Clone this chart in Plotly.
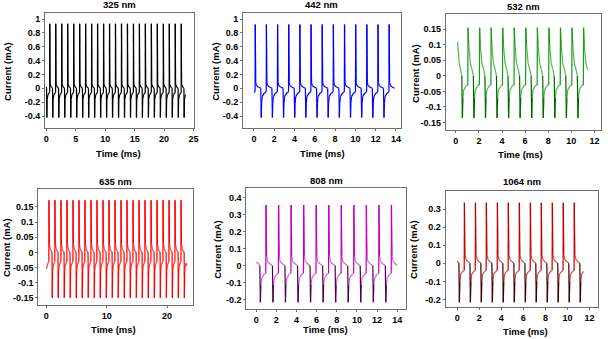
import plotly.graph_objects as go

W, H = 608, 339

# ---------------- data ----------------
titles = ["325 nm", "442 nm", "532 nm", "635 nm", "808 nm", "1064 nm"]

# 325 nm
p1_up_t = [0.60, 1.61, 2.63, 3.64, 4.66, 5.67, 6.68, 7.70, 8.71, 9.73, 10.74, 11.75,
           12.77, 13.78, 14.80, 15.81, 16.82, 17.84, 18.85, 19.87, 20.88, 21.89, 22.91]
p1_dn_t = [0.10, 1.11, 2.13, 3.14, 4.16, 5.17, 6.18, 7.20, 8.21, 9.23, 10.24, 11.25,
           12.27, 13.28, 14.30, 15.31, 16.32, 17.34, 18.35, 19.37, 20.38, 21.39, 22.41, 23.40]
p1_up_dt = [-0.02, 0.0, 0.06, 0.25]
p1_up_v = [-0.06, 0.93, 0.06, 0.02]
p1_dn_dt = [-0.04, 0.0, 0.05, 0.20]
p1_dn_v = [0.0, -0.42, -0.16, -0.09]
p1_start_t, p1_start_v = [0.0], [0.02]
p1_end_t, p1_end_v = [], []

# 442 nm
p2_up_t = [0.13, 1.23, 2.33, 3.43, 4.53, 5.63, 6.73, 7.83, 8.93, 10.03, 11.13, 12.23, 13.33]
p2_dn_t = [0.72, 1.82, 2.92, 4.02, 5.12, 6.22, 7.32, 8.42, 9.52, 10.62, 11.72, 12.82]
p2_up_dt = [-0.02, 0.0, 0.05, 0.12, 0.30]
p2_up_v = [-0.05, 0.92, 0.08, 0.04, 0.02]
p2_dn_dt = [-0.05, 0.0, 0.04, 0.10, 0.30]
p2_dn_v = [0.0, -0.42, -0.22, -0.12, -0.07]
p2_start_t, p2_start_v = [0.0], [-0.06]
p2_end_t, p2_end_v = [13.85], [0.0]

# 532 nm
p3_up_t = [1.06, 2.06, 3.06, 4.06, 5.06, 6.06, 7.06, 8.06, 9.06, 10.06, 11.06]
p3_dn_t = [0.57, 1.57, 2.57, 3.57, 4.57, 5.57, 6.57, 7.57, 8.57, 9.57, 10.57]
p3_up_dt = [-0.02, 0.0, 0.06, 0.20, 0.35]
p3_up_v = [-0.03, 0.155, 0.10, 0.04, 0.02]
p3_dn_dt = [-0.05, 0.0, 0.05, 0.12, 0.35]
p3_dn_v = [0.0, -0.135, -0.07, -0.045, -0.03]
p3_start_t, p3_start_v = [0.15, 0.30], [0.11, 0.04]
p3_end_t, p3_end_v = [], []

# 635 nm
p4_up_t = [0.45, 1.44, 2.44, 3.43, 4.43, 5.42, 6.41, 7.41, 8.40, 9.40, 10.39, 11.38,
           12.38, 13.37, 14.37, 15.36, 16.35, 17.35, 18.34, 19.34, 20.33, 21.32, 22.32]
p4_dn_t = [1.00, 1.99, 2.99, 3.98, 4.98, 5.97, 6.96, 7.96, 8.95, 9.95, 10.94, 11.93,
           12.93, 13.92, 14.92, 15.91, 16.90, 17.90, 18.89, 19.89, 20.88, 21.87, 22.87]
p4_up_dt = [-0.02, 0.0, 0.06, 0.20, 0.35]
p4_up_v = [-0.03, 0.172, 0.03, 0.012, 0.005]
p4_dn_dt = [-0.04, 0.0, 0.05, 0.15, 0.30]
p4_dn_v = [0.0, -0.15, -0.065, -0.045, -0.035]
p4_start_t, p4_start_v = [0.0, 0.30], [-0.055, -0.035]
p4_end_t, p4_end_v = [23.3], [-0.045]

# 808 nm
p5_up_t = [0.98, 2.23, 3.47, 4.72, 5.96, 7.21, 8.45, 9.70, 10.94, 12.19, 13.43]
p5_dn_t = [0.42, 1.67, 2.91, 4.16, 5.40, 6.65, 7.89, 9.14, 10.38, 11.63, 12.87]
p5_up_dt = [-0.02, 0.0, 0.06, 0.15, 0.40]
p5_up_v = [-0.045, 0.355, 0.06, 0.025, 0.01]
p5_dn_dt = [-0.05, 0.0, 0.05, 0.15, 0.40]
p5_dn_v = [0.0, -0.215, -0.11, -0.07, -0.05]
p5_start_t, p5_start_v = [0.0, 0.25], [0.02, 0.012]
p5_end_t, p5_end_v = [14.0], [0.0]

# 1064 nm
p6_up_t = [0.66, 1.66, 2.65, 3.65, 4.64, 5.64, 6.64, 7.63, 8.63, 9.62, 10.62]
p6_dn_t = [0.20, 1.20, 2.19, 3.19, 4.18, 5.18, 6.18, 7.17, 8.17, 9.16, 10.16, 11.16]
p6_up_dt = [-0.02, 0.0, 0.05, 0.15, 0.35]
p6_up_v = [-0.04, 0.335, 0.05, 0.02, 0.008]
p6_dn_dt = [-0.04, 0.0, 0.05, 0.12, 0.30]
p6_dn_v = [0.0, -0.215, -0.10, -0.06, -0.045]
p6_start_t, p6_start_v = [0.0], [0.012]
p6_end_t, p6_end_v = [], []

# tick labels
x_ticks = [[0, 5, 10, 15, 20, 25], [0, 2, 4, 6, 8, 10, 12, 14], [0, 2, 4, 6, 8, 10, 12],
           [0, 10, 20], [0, 2, 4, 6, 8, 10, 12, 14], [0, 2, 4, 6, 8, 10, 12]]
y_ticks_1 = [-0.4, -0.2, 0, 0.2, 0.4, 0.6, 0.8, 1]
y_text_1 = ["-0.4", "-0.2", "0", "0.2", "0.4", "0.6", "0.8", "1"]
y_ticks_2 = [-0.15, -0.1, -0.05, 0, 0.05, 0.1, 0.15]
y_text_2 = ["-0.15", "-0.1", "-0.05", "0", "0.05", "0.1", "0.15"]
y_ticks_5 = [-0.2, -0.1, 0, 0.1, 0.2, 0.3, 0.4]
y_text_5 = ["-0.2", "-0.1", "0", "0.1", "0.2", "0.3", "0.4"]
y_ticks_6 = [-0.2, -0.1, 0, 0.1, 0.2, 0.3]
y_text_6 = ["-0.2", "-0.1", "0", "0.1", "0.2", "0.3"]

# ---------------- layout / style ----------------
# plot boxes in pixels: x0, x1, y0(top), y1(bottom)
boxes = [(44.5, 194.5, 12.5, 128), (244.5, 403.5, 12.5, 128), (449.3, 606, 14, 130),
         (37.7, 194.3, 188.5, 305), (247.7, 409.3, 187.7, 309), (449, 603.3, 191, 306.7)]
x_ranges = [[-0.2, 25], [-1.07, 14.45], [-0.86, 12.57], [-1.31, 24.36], [-0.98, 14.9], [-1.05, 12.8]]
y_ranges = [[-0.573, 1.094], [-0.573, 1.094], [-0.174, 0.199], [-0.174, 0.211], [-0.254, 0.457], [-0.24, 0.40]]
colors = [("#000000", "#000000", "#000000"),
          ("#0000ff", "#0000ff", "#0000ff"),
          ("#1a9a1a", "#006400", "#4cbb4c"),
          ("#ff0000", "#ff0000", "#ff3a3a"),
          ("#c000c0", "#4b0050", "#d860d8"),
          ("#c00000", "#3a0000", "#d04848")]
title_pos = [(119.5, 5), (324, 5), (527.5, 6), (116, 181), (328.5, 180), (526, 181)]
xlab_pos = [(119, 153), (325, 153), (525, 154), (114, 329), (328, 329), (530, 331)]
ylab_pos = [(7, 71), (217, 71), (418, 73), (6, 247), (218, 249), (416, 249)]

panels = [
    (p1_start_t, p1_start_v, p1_up_t, p1_up_dt, p1_up_v, p1_dn_t, p1_dn_dt, p1_dn_v, p1_end_t, p1_end_v),
    (p2_start_t, p2_start_v, p2_up_t, p2_up_dt, p2_up_v, p2_dn_t, p2_dn_dt, p2_dn_v, p2_end_t, p2_end_v),
    (p3_start_t, p3_start_v, p3_up_t, p3_up_dt, p3_up_v, p3_dn_t, p3_dn_dt, p3_dn_v, p3_end_t, p3_end_v),
    (p4_start_t, p4_start_v, p4_up_t, p4_up_dt, p4_up_v, p4_dn_t, p4_dn_dt, p4_dn_v, p4_end_t, p4_end_v),
    (p5_start_t, p5_start_v, p5_up_t, p5_up_dt, p5_up_v, p5_dn_t, p5_dn_dt, p5_dn_v, p5_end_t, p5_end_v),
    (p6_start_t, p6_start_v, p6_up_t, p6_up_dt, p6_up_v, p6_dn_t, p6_dn_dt, p6_dn_v, p6_end_t, p6_end_v),
]
y_tick_sets = [(y_ticks_1, y_text_1), (y_ticks_1, y_text_1), (y_ticks_2, y_text_2),
               (y_ticks_2, y_text_2), (y_ticks_5, y_text_5), (y_ticks_6, y_text_6)]


def build(start_t, start_v, up_t, up_dt, up_v, dn_t, dn_dt, dn_v, end_t, end_v):
    pts = [(t, v, "slow") for t, v in zip(start_t, start_v)]
    events = sorted([(t, "up") for t in up_t] + [(t, "dn") for t in dn_t])
    for t, kind in events:
        dts, vs = (up_dt, up_v) if kind == "up" else (dn_dt, dn_v)
        for j, (d, v) in enumerate(zip(dts, vs)):
            pts.append((t + d, v, kind if j in (1, 2) else "slow"))
    pts += [(t, v, "slow") for t, v in zip(end_t, end_v)]
    segs = {"slow": ([], []), "up": ([], []), "dn": ([], [])}
    for a, b in zip(pts[:-1], pts[1:]):
        xs, ys = segs[b[2]]
        xs += [a[0], b[0], None]
        ys += [a[1], b[1], None]
    return segs


FONT = "Liberation Sans, Arial, sans-serif"
fig = go.Figure()
layout = dict(width=W, height=H, margin=dict(l=0, r=0, t=0, b=0),
              paper_bgcolor="white", plot_bgcolor="white", showlegend=False,
              font=dict(family=FONT, size=9, color="black"))
annotations = []

for i in range(6):
    n = i + 1
    xa, ya = ("x", "y") if n == 1 else (f"x{n}", f"y{n}")
    segs = build(*panels[i])
    cu, cd, cs = colors[i]
    for key, col in (("slow", cs), ("up", cu), ("dn", cd)):
        xs, ys = segs[key]
        if xs:
            fig.add_trace(go.Scatter(x=xs, y=ys, mode="lines", xaxis=xa, yaxis=ya,
                                     line=dict(color=col, width=1.2), hoverinfo="skip"))
    x0, x1, y0, y1 = boxes[i]
    axstyle = dict(showline=True, mirror=True, linecolor="#6e6e6e", linewidth=1,
                   ticks="outside", ticklen=2, tickcolor="#6e6e6e", showgrid=False,
                   zeroline=False, tickfont=dict(family=FONT, size=9, color="black", weight="bold"))
    layout[f"xaxis{n}"] = dict(domain=[x0 / W, x1 / W], range=x_ranges[i], anchor=ya,
                               tickvals=x_ticks[i], ticktext=[str(v) for v in x_ticks[i]],
                               **axstyle)
    yv, yt = y_tick_sets[i]
    layout[f"yaxis{n}"] = dict(domain=[1 - y1 / H, 1 - y0 / H], range=y_ranges[i], anchor=xa,
                               tickvals=yv, ticktext=yt, **axstyle)
    tx, ty = title_pos[i]
    annotations.append(dict(text=titles[i], x=tx / W, y=1 - ty / H, xref="paper", yref="paper",
                            showarrow=False, xanchor="center", yanchor="middle",
                            font=dict(family=FONT, size=9.5, weight="bold")))
    lx, ly = xlab_pos[i]
    annotations.append(dict(text="Time (ms)", x=lx / W, y=1 - ly / H, xref="paper", yref="paper",
                            showarrow=False, xanchor="center", yanchor="middle",
                            font=dict(family=FONT, size=9.5, weight="bold")))
    vx, vy = ylab_pos[i]
    annotations.append(dict(text="Current (mA)", x=vx / W, y=1 - vy / H, xref="paper", yref="paper",
                            showarrow=False, xanchor="center", yanchor="middle", textangle=-90,
                            font=dict(family=FONT, size=9.5, weight="bold")))

layout["annotations"] = annotations
fig.update_layout(**layout)
fig.write_html("out.html")
